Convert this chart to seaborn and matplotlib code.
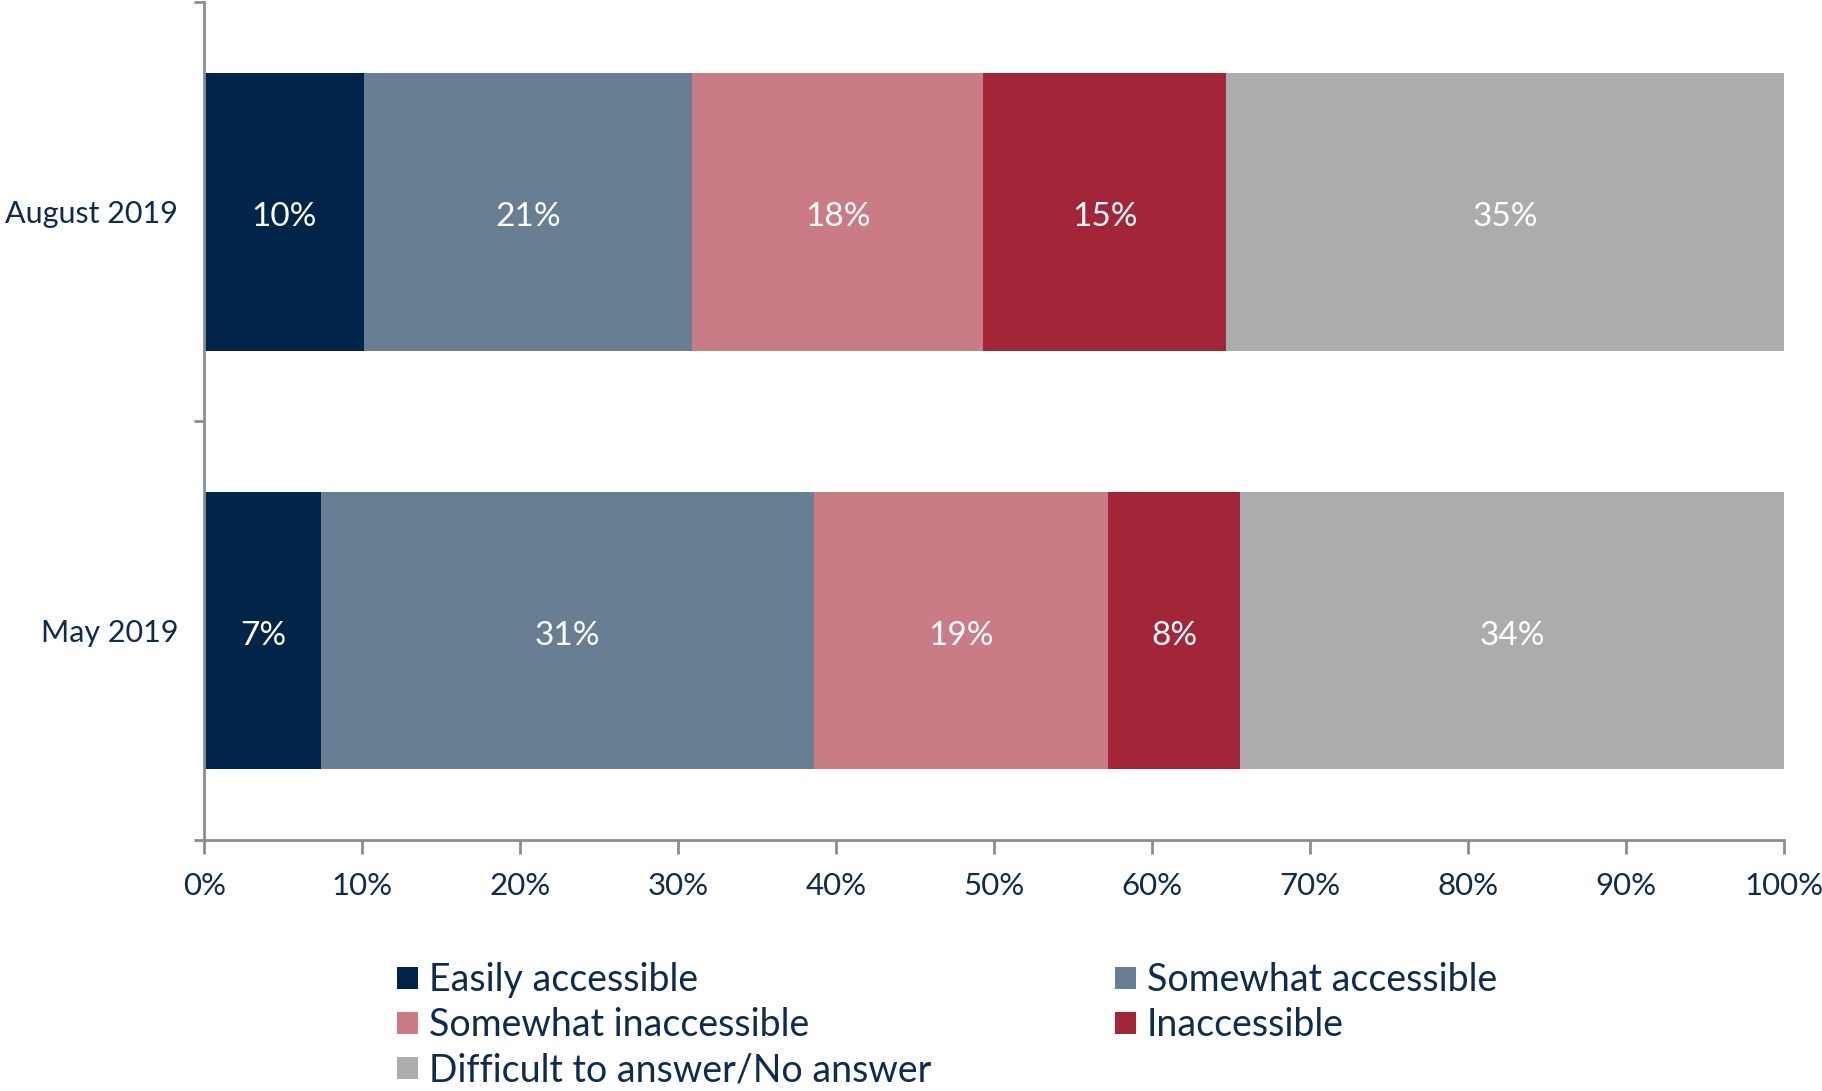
import numpy as np
import pandas as pd
import matplotlib
matplotlib.use("Agg")
import matplotlib.pyplot as plt
import seaborn as sns
from matplotlib.patches import Patch

# data
periods = ["August 2019", "May 2019"]
categories = ["Easily accessible", "Somewhat accessible", "Somewhat inaccessible",
              "Inaccessible", "Difficult to answer/No answer"]
august = [10.1, 20.8, 18.4, 15.4, 35.3]
may = [7.4, 31.2, 18.6, 8.4, 34.4]
colors = ["#012549", "#687e93", "#c97b86", "#a32638", "#acacae"]

text_color = "#0f2b4e"
spine_color = "#8a8d96"

sns.set_theme(style="white")
plt.rcParams["font.family"] = ["Lato", "DejaVu Sans"]

df = pd.DataFrame([august, may], columns=categories, index=periods)
cum = df.cumsum(axis=1)

fig = plt.figure(figsize=(18.22, 10.91), dpi=100)
ax = fig.add_axes([0.1122, 0.23, 0.8668, 0.768])

# stacked bars: draw cumulative totals from the outside in
for cat, col in reversed(list(zip(categories, colors))):
    sns.barplot(x=cum[cat].values, y=periods, orient="h", color=col,
                width=0.663, saturation=1, ax=ax, linewidth=0)

for i, p in enumerate(periods):
    for cat in categories:
        v = df.loc[p, cat]
        mid = cum.loc[p, cat] - v / 2
        ax.text(mid, i + 0.012, f"{v:.0f}%", ha="center", va="center",
                color="white", fontsize=24)

ax.set_xlim(0, 100)
ax.set_ylim(1.5, -0.5)
ax.set_xticks(np.arange(0, 101, 10))
ax.set_xticklabels([f"{t}%" for t in range(0, 101, 10)])
ax.set_xlabel("")
ax.set_ylabel("")

ax.set_yticks([0, 1])
ax.set_yticks([-0.5, 0.5, 1.5], minor=True)
ax.tick_params(axis="y", which="major", length=0, pad=19, labelsize=22, labelcolor=text_color)
ax.tick_params(axis="y", which="minor", length=7, width=2, color=spine_color, left=True)
ax.tick_params(axis="x", length=10, width=2, color=spine_color, bottom=True,
               pad=13, labelsize=22.5, labelcolor=text_color)

for s in ["top", "right"]:
    ax.spines[s].set_visible(False)
for s in ["left", "bottom"]:
    ax.spines[s].set_color(spine_color)
    ax.spines[s].set_linewidth(2)

order = [0, 2, 4, 1, 3]
handles = [Patch(facecolor=colors[k], edgecolor="none") for k in order]
labels = [categories[k] for k in order]
fig.legend(handles, labels, ncol=2, loc="upper left",
           bbox_to_anchor=(0.218, 0.118), frameon=False,
           fontsize=27, labelcolor=text_color, handlelength=0.55, handleheight=0.55,
           handletextpad=0.3, columnspacing=4.9, labelspacing=0.24,
           borderaxespad=0, borderpad=0)

fig.savefig("out.png", dpi=100)
